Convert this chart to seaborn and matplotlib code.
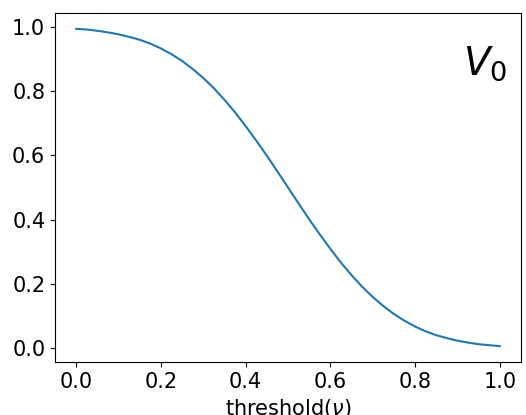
import matplotlib
matplotlib.use("Agg")
import matplotlib.pyplot as plt
import seaborn as sns
import pandas as pd

threshold = [0.000, 0.025, 0.050, 0.075, 0.100, 0.125, 0.150, 0.175, 0.200, 0.225,
             0.250, 0.275, 0.300, 0.325, 0.350, 0.375, 0.400, 0.425, 0.450, 0.475,
             0.500, 0.525, 0.550, 0.575, 0.600, 0.625, 0.650, 0.675, 0.700, 0.725,
             0.750, 0.775, 0.800, 0.825, 0.850, 0.875, 0.900, 0.925, 0.950, 0.975,
             1.000]
v0 = [0.994, 0.992, 0.988, 0.983, 0.977, 0.969, 0.960, 0.948, 0.933, 0.915,
      0.894, 0.869, 0.841, 0.809, 0.773, 0.734, 0.691, 0.646, 0.599, 0.550,
      0.500, 0.450, 0.401, 0.354, 0.309, 0.266, 0.227, 0.191, 0.159, 0.131,
      0.106, 0.085, 0.067, 0.052, 0.040, 0.031, 0.023, 0.017, 0.012, 0.009,
      0.006]
xticks = [0.0, 0.2, 0.4, 0.6, 0.8, 1.0]
yticks = [0.0, 0.2, 0.4, 0.6, 0.8, 1.0]

plt.rcParams['font.size'] = 15
df = pd.DataFrame({"threshold": threshold, "V0": v0})

fig = plt.figure(figsize=(5.26, 4.15), dpi=100)
ax = fig.add_axes([0.1046, 0.1277, 0.9905 - 0.1046, 0.9687 - 0.1277])
sns.lineplot(data=df, x="threshold", y="V0", ax=ax, color="#1f77b4", linewidth=1.5)
ax.set_xticks(xticks)
ax.set_yticks(yticks)
ax.set_xticklabels([f"{t:.1f}" for t in xticks])
ax.set_yticklabels([f"{t:.1f}" for t in yticks])
ax.set_xlabel(r"threshold($\nu$)", labelpad=4)
ax.set_ylabel("")
ax.text(0.97, 0.855, r"$V_0$", transform=ax.transAxes, fontsize=28,
        ha="right", va="center")
fig.savefig("out.png", dpi=100)
